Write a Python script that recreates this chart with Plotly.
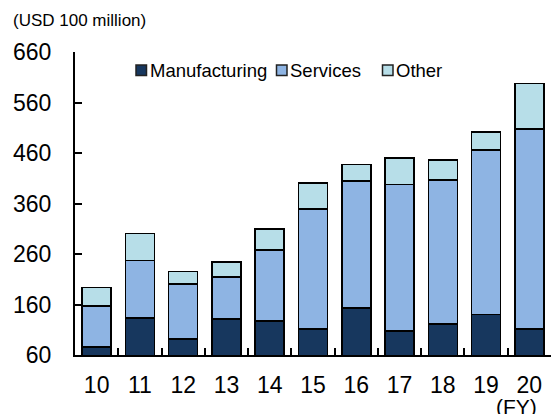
import plotly.graph_objects as go

# Fiscal years (last two digits)
years = ["10", "11", "12", "13", "14", "15", "16", "17", "18", "19", "20"]

# Values in USD 100 million, stacked bottom to top
manufacturing = [76, 133, 92, 131, 127, 111, 153, 108, 121, 140, 112]
services = [81, 114, 109, 83, 141, 238, 252, 290, 285, 326, 395]
other = [37, 54, 24, 30, 42, 52, 32, 52, 40, 36, 91]

series = [
    ("Manufacturing", manufacturing, "#17375e"),
    ("Services", services, "#8eb4e3"),
    ("Other", other, "#b7dee8"),
]

y_ticks = [60, 160, 260, 360, 460, 560, 660]

font_family = "Liberation Sans, Arial, sans-serif"
outline = dict(color="black", width=1.6)

# Page geometry (pixels) used to place the legend and notes
W, H = 551, 414
ML, MR, MT, MB = 75, 0, 52, 59
PW, PH = W - ML - MR, H - MT - MB


def px_x(px):
    return (px - ML) / PW


def px_y(py):
    return (H - MB - py) / PH


fig = go.Figure()
for name, values, color in series:
    fig.add_trace(go.Bar(name=name, x=years, y=values,
                         marker=dict(color=color, line=outline),
                         showlegend=False))

fig.update_layout(
    width=W, height=H,
    barmode="stack", bargap=0.33,
    margin=dict(l=ML, r=MR, t=MT, b=MB),
    paper_bgcolor="white", plot_bgcolor="white",
    font=dict(family=font_family, color="black"),
)

fig.update_xaxes(
    type="category", showline=True, linecolor="black", linewidth=2,
    ticks="inside", tickson="boundaries", ticklen=7, tickwidth=1.5, tickcolor="black",
    tickfont=dict(size=23), ticklabelstandoff=8, showgrid=False,
    range=[-0.5, 10.5],
)
fig.update_yaxes(
    range=[60, 660], tickvals=y_ticks, showline=True, linecolor="black", linewidth=2,
    ticks="inside", ticklen=7, tickwidth=1.5, tickcolor="black",
    tickfont=dict(size=23), ticklabelstandoff=17, showgrid=False, zeroline=False,
)

# Legend: small bordered swatches followed by labels, in one row
legend_items = [(136, series[0]), (276.5, series[1]), (382.5, series[2])]
for left, (name, _, color) in legend_items:
    fig.add_shape(type="rect", xref="paper", yref="paper",
                  x0=px_x(left), x1=px_x(left + 10.5),
                  y0=px_y(75.5), y1=px_y(65),
                  fillcolor=color, line=dict(color="#222222", width=1.5))
    fig.add_annotation(text=name, xref="paper", yref="paper",
                       x=px_x(left + 11.5), y=px_y(70.5),
                       xanchor="left", yanchor="middle", showarrow=False,
                       font=dict(size=18.5))

fig.add_annotation(text="(USD 100 million)", xref="paper", yref="paper",
                   x=px_x(11), y=px_y(20.5), xanchor="left", yanchor="middle",
                   showarrow=False, font=dict(size=17))
fig.add_annotation(text="(FY)", xref="paper", yref="paper",
                   x=px_x(516), y=px_y(406), xanchor="center", yanchor="middle",
                   showarrow=False, font=dict(size=21))

fig.write_html("out.html")
